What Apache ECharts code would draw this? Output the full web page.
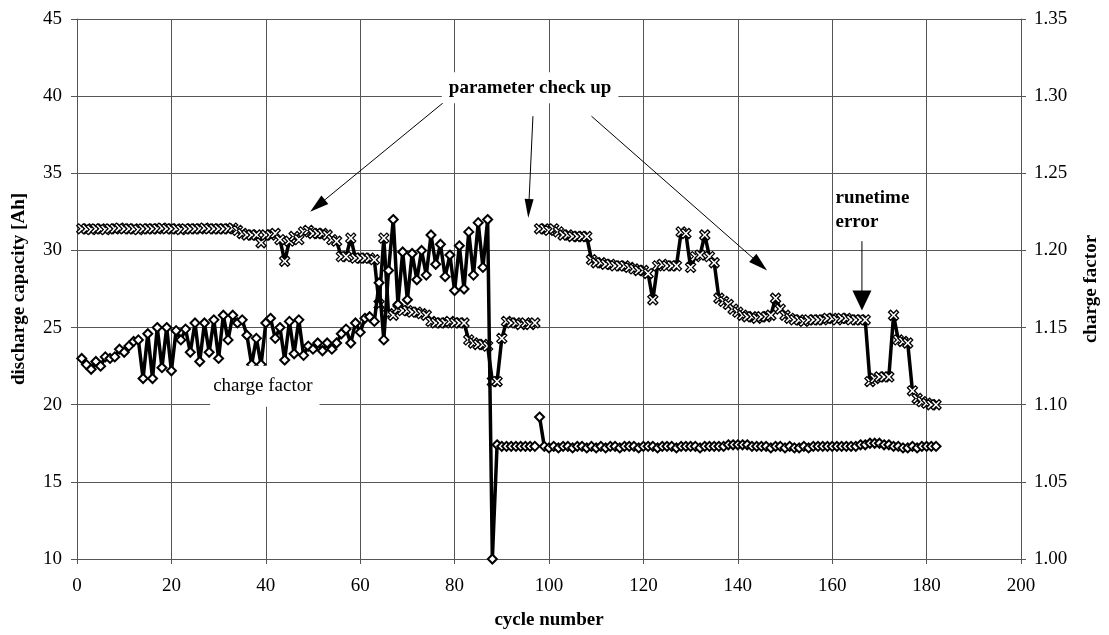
<!DOCTYPE html>
<html><head><meta charset="utf-8">
<script src="https://cdn.jsdelivr.net/npm/echarts@6/dist/echarts.min.js"></script>
<style>html,body{margin:0;padding:0;background:#fff}#c{width:1109px;height:635px}</style>
</head><body><div id="c"></div>
<script>
// ---- data ----
const cycles = Array.from({length: 182}, (_, i) => i + 1);
const gapAfterCycle = 97; // no line drawn between cycle 97 and 98 (parameter check up)

const capacity = [
  31.4, 31.4, 31.35, 31.4, 31.4, 31.35, 31.4, 31.4, 31.45, 31.4,
  31.4, 31.4, 31.35, 31.4, 31.4, 31.4, 31.4, 31.45, 31.4, 31.4,
  31.4, 31.35, 31.4, 31.4, 31.4, 31.4, 31.45, 31.4, 31.4, 31.4,
  31.4, 31.4, 31.45, 31.3, 31.1, 31.0, 31.0, 31.0, 30.5, 31.0,
  31.0, 31.1, 30.7, 29.3, 30.6, 30.9, 30.7, 31.2, 31.3, 31.1,
  31.1, 31.1, 31.0, 30.7, 30.6, 29.6, 29.6, 30.8, 29.5, 29.5,
  29.5, 29.5, 29.4, 26.5, 30.8, 25.9, 25.8, 26.2, 26.1, 26.1,
  26.0, 26.0, 25.9, 25.8, 25.4, 25.3, 25.3, 25.3, 25.4, 25.3,
  25.3, 25.3, 24.2, 24.0, 23.9, 23.9, 23.8, 21.5, 21.5, 24.3,
  25.4, 25.3, 25.3, 25.2, 25.3, 25.2, 25.3, 31.4, 31.4, 31.3,
  31.4, 31.2, 31.0, 31.0, 30.9, 30.9, 30.9, 30.9, 29.4, 29.2,
  29.2, 29.1, 29.1, 29.0, 29.0, 29.0, 28.9, 28.8, 28.7, 28.7,
  28.5, 26.8, 29.0, 29.1, 29.0, 29.0, 29.0, 31.2, 31.1, 28.9,
  29.6, 29.7, 31.0, 29.6, 29.2, 26.9, 26.7, 26.5, 26.2, 26.0,
  25.8, 25.7, 25.7, 25.6, 25.7, 25.7, 25.8, 26.9, 26.2, 25.8,
  25.6, 25.5, 25.5, 25.4, 25.5, 25.5, 25.5, 25.5, 25.6, 25.6,
  25.5, 25.6, 25.6, 25.5, 25.5, 25.5, 25.5, 21.5, 21.7, 21.8,
  21.8, 21.8, 25.8, 24.2, 24.1, 24.0, 20.9, 20.4, 20.2, 20.1,
  20.0, 20.0
];

const chargeFactor = [
  1.130, 1.126, 1.123, 1.128, 1.125, 1.131, 1.130, 1.131, 1.136, 1.134,
  1.138, 1.141, 1.142, 1.117, 1.146, 1.117, 1.150, 1.124, 1.150, 1.122,
  1.148, 1.142, 1.149, 1.134, 1.153, 1.128, 1.153, 1.134, 1.155, 1.130,
  1.158, 1.142, 1.158, 1.153, 1.155, 1.145, 1.126, 1.143, 1.126, 1.153,
  1.156, 1.143, 1.150, 1.129, 1.154, 1.133, 1.155, 1.132, 1.138, 1.136,
  1.140, 1.135, 1.140, 1.136, 1.140, 1.146, 1.149, 1.140, 1.153, 1.147,
  1.156, 1.157, 1.154, 1.179, 1.142, 1.187, 1.220, 1.165, 1.199, 1.168,
  1.198, 1.181, 1.200, 1.184, 1.210, 1.191, 1.204, 1.183, 1.197, 1.174,
  1.203, 1.175, 1.212, 1.184, 1.218, 1.189, 1.220, 1.000, 1.074, 1.073,
  1.073, 1.073, 1.073, 1.073, 1.073, 1.073, 1.073, 1.092, 1.073, 1.072,
  1.073, 1.072, 1.073, 1.073, 1.072, 1.073, 1.073, 1.072, 1.073, 1.072,
  1.073, 1.072, 1.073, 1.073, 1.072, 1.073, 1.073, 1.073, 1.072, 1.073,
  1.073, 1.073, 1.072, 1.073, 1.073, 1.073, 1.072, 1.073, 1.073, 1.073,
  1.073, 1.072, 1.073, 1.073, 1.073, 1.073, 1.073, 1.074, 1.074, 1.074,
  1.074, 1.074, 1.073, 1.073, 1.073, 1.073, 1.072, 1.073, 1.073, 1.072,
  1.073, 1.072, 1.072, 1.073, 1.072, 1.073, 1.073, 1.073, 1.073, 1.073,
  1.073, 1.073, 1.073, 1.073, 1.073, 1.074, 1.074, 1.075, 1.075, 1.075,
  1.074, 1.074, 1.073, 1.073, 1.072, 1.072, 1.073, 1.072, 1.073, 1.073,
  1.073, 1.073
];

const xAxisTicks = {min: 0, max: 200, interval: 20};
const leftAxisTicks = {min: 10, max: 45, interval: 5};
const rightAxisTicks = {min: 1.00, max: 1.35, interval: 0.05};

const xAxisTitle = 'cycle number';
const leftAxisTitle = 'discharge capacity [Ah]';
const rightAxisTitle = 'charge factor';
const noteCheckUp = 'parameter check up';
const noteRuntime = 'runetime\nerror';
const noteCharge = 'charge factor';

// ---- chart ----
const FONT = '"Liberation Serif", "Times New Roman", serif';
const chart = echarts.init(document.getElementById('c'), null, {renderer: 'canvas'});

function segment(values, first) {
  const out = [];
  cycles.forEach((c, i) => {
    if (first ? c <= gapAfterCycle : c > gapAfterCycle) out.push([c, values[i]]);
  });
  return out;
}

const crossSymbol = 'path://M0,2 L2,0 L5,3 L8,0 L10,2 L7,5 L10,8 L8,10 L5,7 L2,10 L0,8 L3,5 Z';
const capStyle = {
  type: 'line', yAxisIndex: 0, symbol: crossSymbol, symbolSize: 10, showAllSymbol: true,
  lineStyle: {color: '#000', width: 3.5},
  itemStyle: {color: '#fff', borderColor: '#000', borderWidth: 1.3},
  emphasis: {disabled: true}, animation: false, z: 3
};
const cfStyle = {
  type: 'line', yAxisIndex: 1, symbol: 'diamond', symbolSize: 9, showAllSymbol: true,
  lineStyle: {color: '#000', width: 3.5},
  itemStyle: {color: '#fff', borderColor: '#000', borderWidth: 2},
  emphasis: {disabled: true}, animation: false, z: 4
};

const axisLabelStyle = {color: '#000', fontFamily: FONT, fontSize: 19};
const nameStyle = {color: '#000', fontFamily: FONT, fontSize: 19, fontWeight: 'bold'};
const gridLine = {show: true, lineStyle: {color: '#555', width: 1}};

chart.setOption({
  backgroundColor: '#fff',
  animation: false,
  grid: {left: 77, right: 80, top: 19, bottom: 73},
  xAxis: {
    type: 'value', min: xAxisTicks.min, max: xAxisTicks.max, interval: xAxisTicks.interval,
    name: xAxisTitle, nameLocation: 'middle', nameGap: 52, nameTextStyle: nameStyle,
    axisLine: {show: true, lineStyle: {color: '#555'}},
    axisTick: {show: true, length: 5, lineStyle: {color: '#555'}},
    axisLabel: Object.assign({margin: 18}, axisLabelStyle),
    splitLine: gridLine
  },
  yAxis: [
    {
      type: 'value', position: 'left', min: leftAxisTicks.min, max: leftAxisTicks.max, interval: leftAxisTicks.interval,
      name: leftAxisTitle, nameLocation: 'middle', nameRotate: 90, nameGap: 48, nameTextStyle: nameStyle,
      axisLine: {show: true, lineStyle: {color: '#555'}},
      axisTick: {show: true, length: 6, lineStyle: {color: '#555'}},
      axisLabel: Object.assign({margin: 15}, axisLabelStyle),
      splitLine: gridLine
    },
    {
      type: 'value', position: 'right', min: rightAxisTicks.min, max: rightAxisTicks.max, interval: rightAxisTicks.interval,
      name: rightAxisTitle, nameLocation: 'middle', nameRotate: 90, nameGap: 61, nameTextStyle: nameStyle,
      axisLine: {show: true, lineStyle: {color: '#555'}},
      axisTick: {show: true, length: 5, lineStyle: {color: '#555'}},
      axisLabel: Object.assign({margin: 13, formatter: v => v.toFixed(2)}, axisLabelStyle),
      splitLine: {show: false}
    }
  ],
  series: [
    Object.assign({name: 'discharge capacity', data: segment(capacity, true)}, capStyle),
    Object.assign({name: 'discharge capacity (after check up)', data: segment(capacity, false)}, capStyle),
    Object.assign({name: 'charge factor', data: segment(chargeFactor, true)}, cfStyle),
    Object.assign({name: 'charge factor (after check up)', data: segment(chargeFactor, false)}, cfStyle)
  ]
});

// ---- annotations (positioned in data space: [cycle, Ah]) ----
const px = p => chart.convertToPixel({xAxisIndex: 0, yAxisIndex: 0}, p);
function arrow(from, to, headLen, headW) {
  const a = px(from), b = px(to);
  const dx = b[0] - a[0], dy = b[1] - a[1];
  const len = Math.hypot(dx, dy), ux = dx / len, uy = dy / len;
  const bx = b[0] - ux * headLen, by = b[1] - uy * headLen;
  const nx = -uy * headW / 2, ny = ux * headW / 2;
  return [
    {type: 'line', shape: {x1: a[0], y1: a[1], x2: bx + ux * 2, y2: by + uy * 2}, style: {stroke: '#000', lineWidth: 1}, z: 20},
    {type: 'polygon', shape: {points: [[b[0], b[1]], [bx + nx, by + ny], [bx - nx, by - ny]]}, style: {fill: '#000'}, z: 20}
  ];
}
const checkPos = px([96.0, 40.55]);
const runPos = px([160.7, 34.2]);
const cfPos = px([39.8, 21.2]);
const graphics = [].concat(
  arrow([77.7, 39.6], [49.4, 32.5], 19, 11),
  arrow([96.6, 38.7], [95.6, 32.1], 19, 9),
  arrow([109.0, 38.7], [146.2, 28.7], 19, 11),
  arrow([166.3, 30.6], [166.3, 26.1], 20, 19),
  [
    {type: 'text', x: checkPos[0], y: checkPos[1], z: 21,
     style: {text: noteCheckUp, fill: '#000', font: 'bold 19px ' + FONT, align: 'center', verticalAlign: 'middle',
             backgroundColor: '#fff', padding: [6, 7, 6, 7]}},
    {type: 'text', x: runPos[0], y: runPos[1], z: 21,
     style: {text: noteRuntime, fill: '#000', font: 'bold 19px ' + FONT, align: 'left', verticalAlign: 'top', lineHeight: 24}},
    {type: 'text', x: cfPos[0], y: cfPos[1], z: 21,
     style: {text: noteCharge, fill: '#000', font: '19px ' + FONT, align: 'center', verticalAlign: 'middle',
             backgroundColor: '#fff', padding: [8, 7, 14, 3]}}
  ]
);
chart.setOption({graphic: graphics});
</script>
</body></html>
